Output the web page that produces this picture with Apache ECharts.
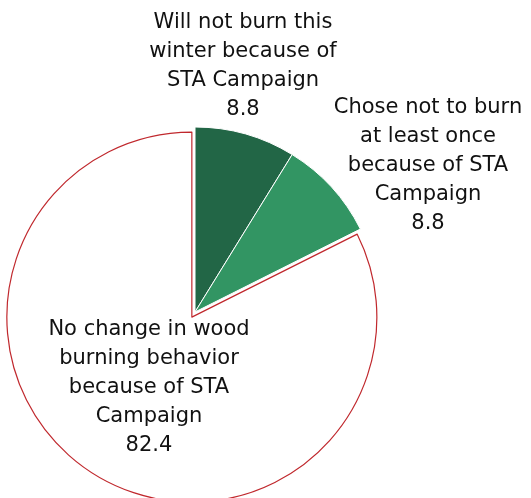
<!DOCTYPE html>
<html>
<head>
<meta charset="utf-8">
<style>
  html, body { margin: 0; padding: 0; background: #ffffff; }
  #chart { width: 531px; height: 498px; }
</style>
<script src="https://cdn.jsdelivr.net/npm/echarts@6/dist/echarts.min.js"></script>
</head>
<body>
<div id="chart"></div>
<script>
// Categories and their shares (percent of respondents)
const categories = [
  'Will not burn this\nwinter because of\nSTA Campaign',
  'Chose not to burn\nat least once\nbecause of STA\nCampaign',
  'No change in wood\nburning behavior\nbecause of STA\nCampaign'
];
const values = [8.8, 8.8, 82.4];

// Slice styling
const fills = ['#226646', '#329563', '#ffffff'];
const borders = ['#ffffff', '#ffffff', '#c0282d'];
const explode = [0, 0, 6];   // px each slice is pulled out from the centre

// Pie geometry and label anchors (offsets from the pie centre)
const PIE_CENTER = [195, 312];
const PIE_RADIUS = 185;
const labelAnchors = [[48, -246], [233, -146], [-46, 76]];

const total = values.reduce((a, b) => a + b, 0);

// Centre of each slice after pulling it out along its mid angle (clockwise from 12 o'clock)
function sliceCenter(i) {
  const before = values.slice(0, i).reduce((a, b) => a + b, 0);
  const mid = (before + values[i] / 2) / total * 2 * Math.PI;
  return [
    PIE_CENTER[0] + explode[i] * Math.sin(mid),
    PIE_CENTER[1] - explode[i] * Math.cos(mid)
  ];
}

const labelStyle = {
  fontFamily: 'DejaVu Sans',
  fontSize: 21,
  lineHeight: 29,
  color: '#111111',
  align: 'center'
};

// One pie layer per slice so each can carry its own offset; the other slices stay hidden
const series = values.map((_, k) => ({
  type: 'pie',
  center: sliceCenter(k),
  radius: PIE_RADIUS,
  startAngle: 90,
  clockwise: true,
  silent: true,
  emphasis: { disabled: true },
  labelLine: { show: false },
  labelLayout: p => ({
    x: PIE_CENTER[0] + labelAnchors[p.dataIndex][0],
    y: PIE_CENTER[1] + labelAnchors[p.dataIndex][1],
    align: 'center',
    verticalAlign: 'middle'
  }),
  data: values.map((v, i) => ({
    name: categories[i],
    value: v,
    itemStyle: i === k
      ? { color: fills[i], borderColor: borders[i], borderWidth: i === 2 ? 1.2 : 1 }
      : { color: 'rgba(0,0,0,0)', borderWidth: 0 },
    label: i === k
      ? Object.assign({ show: true, position: 'inside',
          formatter: p => p.name + '\n' + p.value.toFixed(1) }, labelStyle)
      : { show: false }
  }))
}));

const chart = echarts.init(document.getElementById('chart'), null, { renderer: 'canvas' });
chart.setOption({
  animation: false,
  backgroundColor: '#ffffff',
  series: series
});
</script>
</body>
</html>
